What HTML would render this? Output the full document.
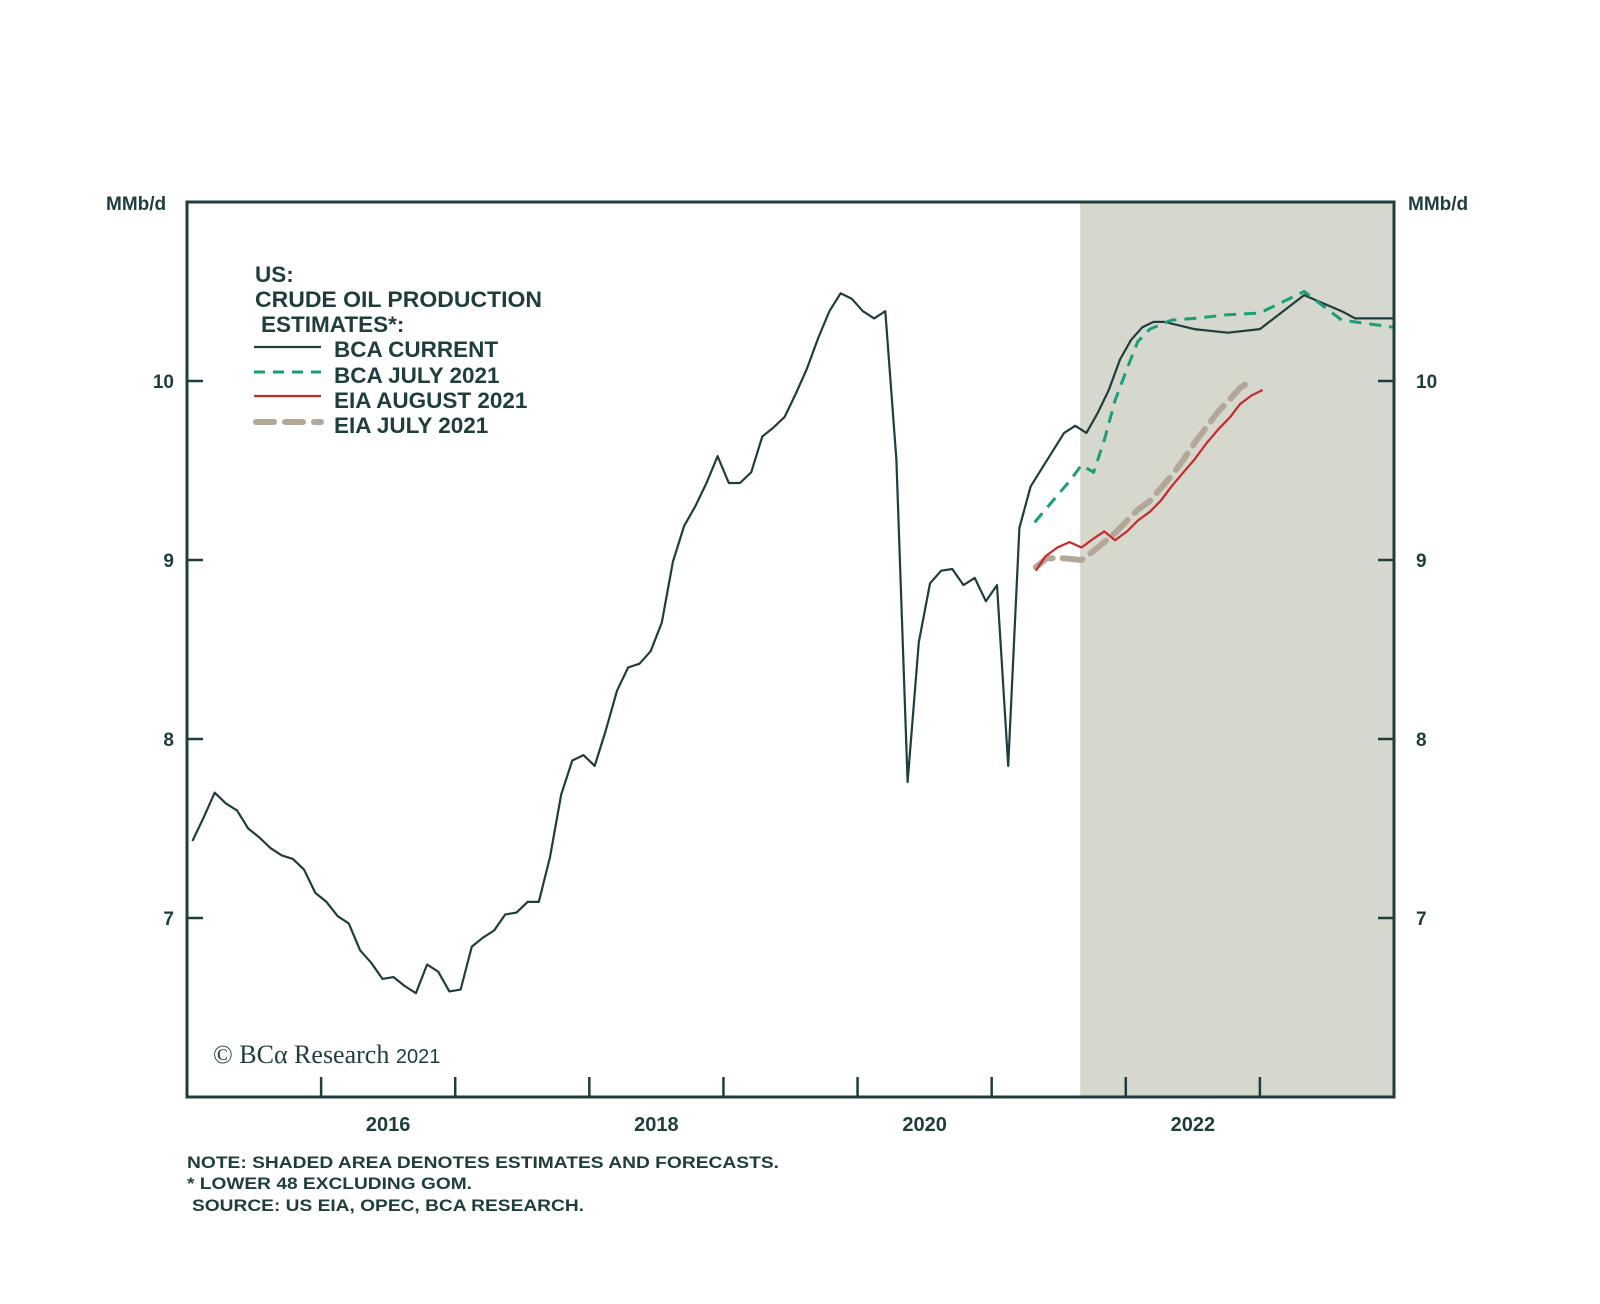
<!DOCTYPE html>
<html><head><meta charset="utf-8"><style>
html,body{margin:0;padding:0;background:#fff;}
svg{display:block;}
text{font-family:"Liberation Sans",sans-serif;fill:#1f3d3d;font-weight:bold;}
</style></head><body>
<svg id="chart" width="1600" height="1304" viewBox="0 0 1600 1304" xmlns="http://www.w3.org/2000/svg">
<rect x="0" y="0" width="1600" height="1304" fill="#fff"/>
<rect id="shade" fill="#d6d7cd"/>
<g id="ticks"></g>
<g id="series"></g>
<rect x="187" y="202" width="1207" height="895" fill="none" stroke="#1f3d3d" stroke-width="3"/>
<text x="106" y="210" font-size="19">MMb/d</text>
<text x="1408" y="210" font-size="19">MMb/d</text>
<g id="labels"></g>
<g font-size="22.5">
<text x="255" y="282">US:</text>
<text x="255" y="307" textLength="287" lengthAdjust="spacingAndGlyphs">CRUDE OIL PRODUCTION</text>
<text x="261" y="332">ESTIMATES*:</text>
<line x1="254" y1="347" x2="321" y2="347" stroke="#1f3d3d" stroke-width="2.2"/>
<text x="334" y="357">BCA CURRENT</text>
<line x1="254" y1="372" x2="321" y2="372" stroke="#1a9e7a" stroke-width="3" stroke-dasharray="11,8"/>
<text x="334" y="383">BCA JULY 2021</text>
<line x1="254" y1="396" x2="321" y2="396" stroke="#c8282a" stroke-width="2.2"/>
<text x="334" y="408">EIA AUGUST 2021</text>
<line x1="256" y1="422" x2="321" y2="422" stroke="#b3a799" stroke-width="6" stroke-dasharray="18,11" stroke-linecap="round"/>
<text x="334" y="433">EIA JULY 2021</text>
</g>
<text x="213" y="1063" style="font-family:'Liberation Serif',serif;font-weight:normal" font-size="26">© BCα Research <tspan style="font-family:'Liberation Sans',sans-serif" font-size="20">2021</tspan></text>
<g font-size="16.5">
<text x="187" y="1168" textLength="592" lengthAdjust="spacingAndGlyphs">NOTE: SHADED AREA DENOTES ESTIMATES AND FORECASTS.</text>
<text x="187" y="1189" textLength="285" lengthAdjust="spacingAndGlyphs">* LOWER 48 EXCLUDING GOM.</text>
<text x="192" y="1211" textLength="392" lengthAdjust="spacingAndGlyphs">SOURCE: US EIA, OPEC, BCA RESEARCH.</text>
</g>
</svg>
<script>
const yTicks = [7, 8, 9, 10];
const xYearLabels = [2016, 2018, 2020, 2022];
const xTickYears = [2016, 2017, 2018, 2019, 2020, 2021, 2022, 2023];
const shadeStart = 2021.66;
const bcaCurrentMonthly = [
7.43,7.56,7.70,7.64,7.60,7.50,7.45,7.39,7.35,7.33,7.27,7.14,
7.09,7.01,6.97,6.82,6.75,6.66,6.67,6.62,6.58,6.74,6.70,6.59,
6.60,6.84,6.89,6.93,7.02,7.03,7.09,7.09,7.34,7.69,7.88,7.91,
7.85,8.05,8.27,8.40,8.42,8.49,8.65,8.99,9.19,9.30,9.43,9.58,
9.43,9.43,9.49,9.69,9.74,9.80,9.93,10.07,10.24,10.39,10.49,10.46,
10.39,10.35,10.39,9.56,7.76,8.54,8.87,8.94,8.95,8.86,8.90,8.77,
8.86,7.85,9.18,9.41,9.51,9.61,9.71,9.75,9.71,9.82,9.95,10.12,
10.23,10.30,10.33,10.33];
const bcaCurrentTailDates = [2022.51, 2022.76, 2023.00, 2023.33, 2023.61, 2023.71, 2024.0];
const bcaCurrentTailValues = [10.29, 10.27, 10.29, 10.48, 10.39, 10.35, 10.35];
const bcaJulyDates = [2021.32,2021.59,2021.67,2021.76,2021.84,2021.92,2022.01,2022.09,2022.18,2022.34,2022.51,2022.76,2023.00,2023.33,2023.61,2024.0];
const bcaJulyValues = [9.21,9.45,9.53,9.49,9.67,9.89,10.07,10.22,10.29,10.34,10.35,10.37,10.38,10.50,10.34,10.30];
const eiaAugDates = [2021.33,2021.40,2021.49,2021.58,2021.67,2021.76,2021.84,2021.92,2022.01,2022.09,2022.18,2022.26,2022.34,2022.43,2022.51,2022.60,2022.69,2022.78,2022.85,2022.94,2023.02];
const eiaAugValues = [8.94,9.02,9.07,9.10,9.07,9.12,9.16,9.11,9.16,9.22,9.27,9.33,9.41,9.49,9.56,9.65,9.73,9.80,9.87,9.92,9.95];
const eiaJulyDates = [2021.33,2021.41,2021.53,2021.67,2021.76,2021.84,2021.92,2022.01,2022.09,2022.18,2022.26,2022.34,2022.43,2022.51,2022.60,2022.69,2022.78,2022.85,2022.91];
const eiaJulyValues = [8.96,9.01,9.01,9.00,9.05,9.10,9.15,9.22,9.28,9.33,9.40,9.47,9.56,9.65,9.74,9.83,9.90,9.96,9.99];

const X0=187, X1=1394, Y0=202, Y1=1097;
function xs(yr){ return X0 + (yr-2015)/(2024-2015)*(X1-X0); }
function ys(v){ return Y1 - (v-6)/(11-6)*(Y1-Y0); }
const NS='http://www.w3.org/2000/svg';
function mk(tag, attrs, parent){ const e=document.createElementNS(NS,tag); for(const k in attrs) e.setAttribute(k,attrs[k]); parent.appendChild(e); return e; }

const shade=document.getElementById('shade');
shade.setAttribute('x', xs(shadeStart)); shade.setAttribute('y', Y0);
shade.setAttribute('width', X1-xs(shadeStart)); shade.setAttribute('height', Y1-Y0);

const tg=document.getElementById('ticks'), lg=document.getElementById('labels');
yTicks.forEach(v=>{
  const l1=mk('line',{x1:X0,x2:X0+16,y1:ys(v),y2:ys(v),stroke:'#1f3d3d','stroke-width':2.5},tg);
  
  
  const l2=mk('line',{x1:X1-16,x2:X1,y1:ys(v),y2:ys(v),stroke:'#1f3d3d','stroke-width':2.5},tg);
  
  
  const t1=mk('text',{x:X0-13,y:ys(v)+7,'text-anchor':'end','font-size':19},lg); t1.textContent=v;
  
  
  const t2=mk('text',{x:X1+22,y:ys(v)+7,'font-size':19},lg); t2.textContent=v;
  
  
});
xTickYears.forEach(yr=>{
  const l=mk('line',{x1:xs(yr),x2:xs(yr),y1:Y1,y2:Y1-20,stroke:'#1f3d3d','stroke-width':2.5},tg);
  
  
});
xYearLabels.forEach(yr=>{
  const t=mk('text',{x:xs(yr+0.5),y:1131,'text-anchor':'middle','font-size':20},lg); t.textContent=yr;
  
  
});

function pathD(dates, vals){ return dates.map((d,i)=>(i?'L':'M')+xs(d).toFixed(1)+','+ys(vals[i]).toFixed(1)).join(''); }
const sg=document.getElementById('series');
const curDates = bcaCurrentMonthly.map((v,i)=>2015.04+i/12).concat(bcaCurrentTailDates);
const curVals = bcaCurrentMonthly.concat(bcaCurrentTailValues);

const pJulyEia=mk('path',{d:pathD(eiaJulyDates,eiaJulyValues),fill:'none',stroke:'#b3a799','stroke-width':6,'stroke-dasharray':'20,10','stroke-linecap':'round','stroke-linejoin':'round'},sg);


const pAug=mk('path',{d:pathD(eiaAugDates,eiaAugValues),fill:'none',stroke:'#c8282a','stroke-width':2.2,'stroke-linejoin':'round'},sg);


const pCur=mk('path',{d:pathD(curDates,curVals),fill:'none',stroke:'#1f3d3d','stroke-width':2.2,'stroke-linejoin':'round'},sg);


const pBj=mk('path',{d:pathD(bcaJulyDates,bcaJulyValues),fill:'none',stroke:'#1a9e7a','stroke-width':3,'stroke-dasharray':'12,8','stroke-linejoin':'round'},sg);


</script>
</body></html>
